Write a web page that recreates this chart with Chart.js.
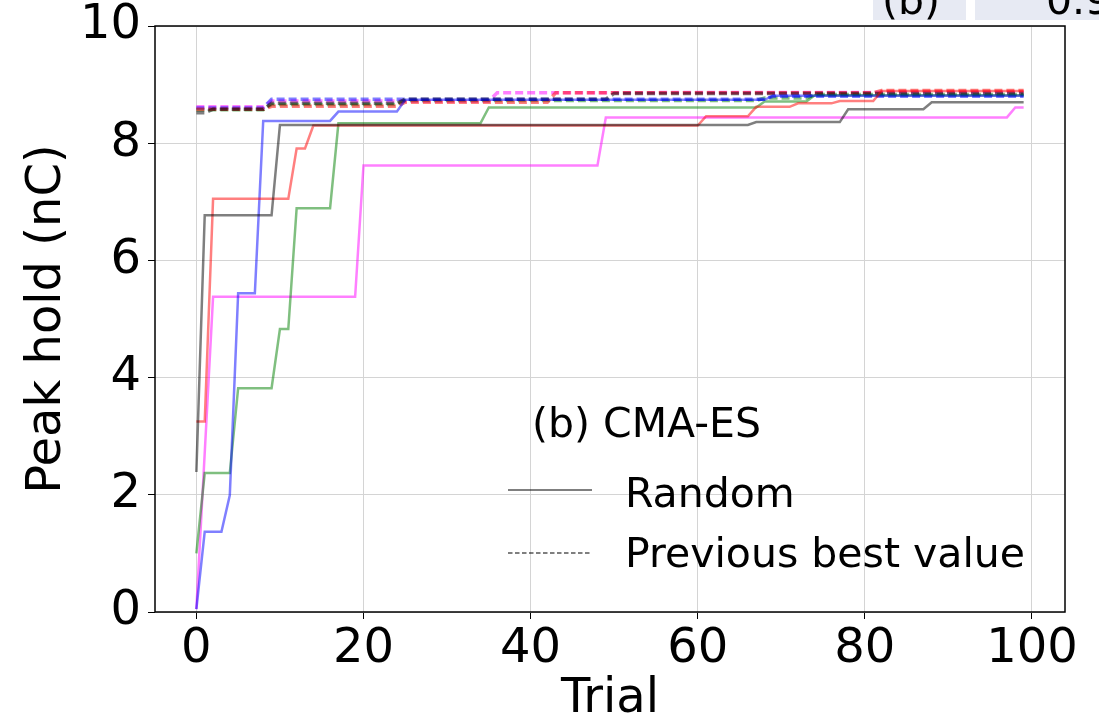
<!DOCTYPE html>
<html>
<head>
<meta charset="utf-8">
<script src="https://cdn.jsdelivr.net/npm/chart.js@4.4.0/dist/chart.umd.min.js"></script>
<style>
    html, body { margin: 0; padding: 0; background: #fff; }
</style>
</head>
<body>
<canvas id="myChart" width="1099" height="724"></canvas>
<script>
// tick values
const xTicks = [0, 20, 40, 60, 80, 100];
const yTicks = [0, 2, 4, 6, 8, 10];

// running best of each run: [trial, peak hold] at every corner of the step line
const randomGray = [[0, 2.39], [1, 6.77], [9, 6.77], [10, 8.31], [66, 8.31], [67, 8.36], [77, 8.36], [78, 8.58], [87, 8.58], [88, 8.70], [99, 8.70]];
const randomRed = [[0, 3.25], [1, 3.25], [2, 7.05], [11, 7.05], [12, 7.91], [13, 7.91], [14, 8.30], [60, 8.30], [61, 8.46], [66, 8.46], [67, 8.62], [71, 8.62], [72, 8.68], [76, 8.68], [77, 8.72], [81, 8.72], [82, 8.89], [99, 8.89]];
const randomBlue = [[0, 0.05], [1, 1.37], [3, 1.37], [4, 1.99], [5, 5.44], [7, 5.44], [8, 8.38], [16, 8.38], [17, 8.54], [24, 8.54], [25, 8.74], [68, 8.74], [69, 8.81], [99, 8.81]];
const randomGreen = [[0, 1.00], [1, 2.37], [4, 2.37], [5, 3.82], [9, 3.82], [10, 4.83], [11, 4.83], [12, 6.89], [16, 6.89], [17, 8.34], [34, 8.34], [35, 8.61], [67, 8.61], [68, 8.71], [73, 8.71], [74, 8.82], [99, 8.82]];
const randomMagenta = [[0, 0.05], [2, 5.38], [19, 5.38], [20, 7.62], [48, 7.62], [49, 8.44], [97, 8.44], [98, 8.61], [99, 8.61]];

// runs started from the previous best value
const bestGray = [[0, 8.52], [1, 8.52], [2, 8.58], [8, 8.58], [9, 8.68], [24, 8.68], [25, 8.75], [49, 8.75], [50, 8.85], [99, 8.85]];
const bestRed = [[0, 8.58], [8, 8.58], [9, 8.63], [24, 8.63], [25, 8.70], [42, 8.70], [43, 8.86], [81, 8.86], [82, 8.90], [99, 8.90]];
const bestBlue = [[0, 8.60], [8, 8.60], [9, 8.75], [68, 8.75], [69, 8.80], [99, 8.80]];
const bestGreen = [[0, 8.57], [8, 8.57], [9, 8.66], [24, 8.66], [25, 8.73], [67, 8.73], [68, 8.77], [73, 8.77], [74, 8.83], [99, 8.83]];
const bestMagenta = [[0, 8.62], [8, 8.62], [9, 8.72], [35, 8.72], [36, 8.86], [99, 8.87]];

const randomRuns = [randomGray, randomRed, randomBlue, randomGreen, randomMagenta];
const bestRuns = [bestGray, bestRed, bestBlue, bestGreen, bestMagenta];
const runColors = ['rgba(0,0,0,0.5)', 'rgba(255,0,0,0.5)', 'rgba(0,0,255,0.5)', 'rgba(0,128,0,0.5)', 'rgba(255,0,255,0.5)'];

const legendTitle = '(b) CMA-ES';
const legendLabels = ['Random', 'Previous best value'];

function toPoints(run) {
    return run.map(p => ({ x: p[0], y: p[1] }));
}

let datasets = [];
randomRuns.forEach(function (run, i) {
    datasets.push({
        data: toPoints(run),
        borderColor: runColors[i],
        borderWidth: 2.5,
        pointRadius: 0,
        tension: 0,
        fill: false
    });
});
bestRuns.forEach(function (run, i) {
    datasets.push({
        data: toPoints(run),
        borderColor: runColors[i],
        borderWidth: 3.5,
        borderDash: [8, 4],
        pointRadius: 0,
        tension: 0,
        fill: false
    });
});

// frame, legend and the cut-off boxes at the top
const extras = {
    id: 'extras',
    afterDraw(chart) {
        const c = chart.ctx;
        const a = chart.chartArea;
        c.save();
        c.strokeStyle = '#000';
        c.lineWidth = 1.5;
        c.strokeRect(a.left, a.top, a.right - a.left, a.bottom - a.top);

        c.fillStyle = '#000';
        c.font = '41px "DejaVu Sans"';
        c.textBaseline = 'alphabetic';
        c.fillText(legendTitle, 532, 437);
        c.fillText(legendLabels[0], 625, 507);
        c.fillText(legendLabels[1], 625, 567);

        c.strokeStyle = 'rgba(0,0,0,0.5)';
        c.lineWidth = 2;
        c.beginPath();
        c.moveTo(508, 490);
        c.lineTo(592, 490);
        c.stroke();
        c.setLineDash([4.5, 2.5]);
        c.beginPath();
        c.moveTo(508, 553);
        c.lineTo(592, 553);
        c.stroke();
        c.setLineDash([]);

        c.fillStyle = '#e7eaf3';
        c.fillRect(873, 0, 93, 20);
        c.fillRect(975, 0, 124, 20);
        c.fillStyle = '#000';
        c.fillText('(b)', 882, 14);
        c.fillText('0.9', 1046, 14);
        c.restore();
    }
};

const ctx = document.getElementById('myChart');
new Chart(ctx, {
    type: 'line',
    data: { datasets: datasets },
    options: {
        responsive: false,
        animation: false,
        layout: { padding: { top: 26, right: 34, left: 0, bottom: 0 } },
        plugins: { legend: { display: false }, tooltip: { enabled: false } },
        scales: {
            x: {
                type: 'linear',
                min: -4.95,
                max: 103.95,
                afterBuildTicks: function (scale) {
                    scale.ticks = xTicks.map(v => ({ value: v }));
                },
                afterFit: function (scale) {
                    scale.height = 112;
                    scale.paddingLeft = 0;
                    scale.paddingRight = 0;
                },
                grid: { color: '#d4d4d4', tickColor: '#000', tickLength: 7 },
                border: { display: false },
                ticks: { color: '#000', padding: 2, maxRotation: 0, font: { family: 'DejaVu Sans', size: 48 } },
                title: { display: true, text: 'Trial', color: '#000', padding: 0, font: { family: 'DejaVu Sans', size: 48, lineHeight: 1 } }
            },
            y: {
                min: 0,
                max: 10,
                afterBuildTicks: function (scale) {
                    scale.ticks = yTicks.map(v => ({ value: v }));
                },
                afterFit: function (scale) {
                    scale.width = 155;
                    scale.paddingTop = 0;
                    scale.paddingBottom = 0;
                },
                grid: { color: '#d4d4d4', tickColor: '#000', tickLength: 7 },
                border: { display: false },
                ticks: { color: '#000', padding: 7, font: { family: 'DejaVu Sans', size: 48 } },
                title: { display: true, text: 'Peak hold (nC)', color: '#000', padding: { top: 24, bottom: 0 }, font: { family: 'DejaVu Sans', size: 48, lineHeight: 1 } }
            }
        }
    },
    plugins: [extras]
});
</script>
</body>
</html>
